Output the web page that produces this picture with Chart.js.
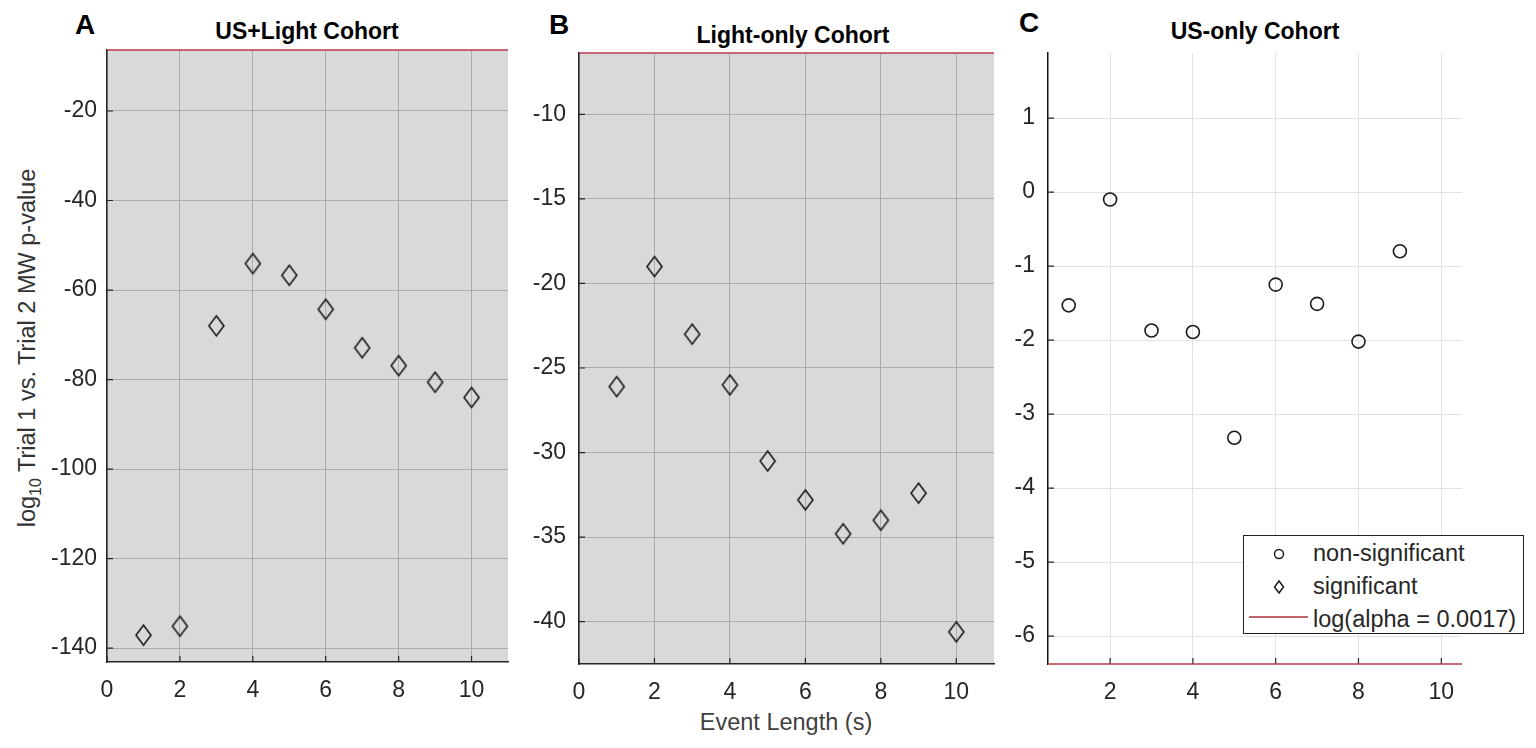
<!DOCTYPE html>
<html lang="en">
<head>
<meta charset="UTF-8">
<title>Trial 1 vs. Trial 2 MW p-value by event length</title>
<script src="https://cdn.jsdelivr.net/npm/chart.js"></script>
<style>
    body { margin: 0; width: 1536px; height: 748px; position: relative; overflow: hidden; background: #fff;
           font-family: "Liberation Sans", Arial, sans-serif; color: #262626; }
    canvas { position: absolute; }
    .txt { position: absolute; transform: translate(-50%, -50%); line-height: 1; white-space: nowrap; }
    .letter { font-size: 28px; font-weight: bold; color: #000; }
    .title { font-size: 23px; font-weight: bold; color: #000; }
    .axis-label { font-size: 23.5px; color: #333; }
    .ylabel { transform: translate(-50%, -50%) rotate(-90deg); }
    .ylabel sub { font-size: 16px; }
    #legend { position: absolute; left: 1243px; top: 535px; width: 279px; height: 97px;
              border: 1px solid #222; background: #fff; font-size: 23.5px; color: #262626; }
    #legend .row { position: absolute; left: 0; right: 0; height: 30px; }
    #legend .row span { position: absolute; left: 69px; top: 50%; transform: translateY(-50%); line-height: 1; }
    #legend svg { position: absolute; top: 0; left: 0; }
</style>
</head>
<body>
    <div class="txt letter" style="left:85px; top:25px;">A</div>
    <div class="txt letter" style="left:559px; top:25px;">B</div>
    <div class="txt letter" style="left:1029px; top:23px;">C</div>

    <div class="txt title" style="left:307px; top:31px;">US+Light Cohort</div>
    <div class="txt title" style="left:793px; top:35px;">Light-only Cohort</div>
    <div class="txt title" style="left:1255px; top:31px;">US-only Cohort</div>

    <div class="txt axis-label ylabel" style="left:30px; top:348px;">log<sub>10</sub> Trial 1 vs. Trial 2 MW p-value</div>
    <div class="txt axis-label" style="left:786px; top:723px; color:#404040;">Event Length (s)</div>

    <canvas id="panelA" width="501" height="692" style="left:37px; top:20px;"></canvas>
    <canvas id="panelB" width="515" height="691" style="left:509px; top:23px;"></canvas>
    <canvas id="panelC" width="514" height="691" style="left:978px; top:23px;"></canvas>

    <div id="legend">
        <div class="row" style="top:3px;">
            <svg width="69" height="30"><circle cx="35" cy="15" r="4.5" fill="none" stroke="#1a1a1a" stroke-width="1.5"/></svg>
            <span>non-significant</span>
        </div>
        <div class="row" style="top:36px;">
            <svg width="69" height="30"><path d="M35 9 L39.5 15 L35 21 L30.5 15 Z" fill="none" stroke="#1a1a1a" stroke-width="1.5"/></svg>
            <span>significant</span>
        </div>
        <div class="row" style="top:69px;">
            <svg width="69" height="30"><line x1="5" y1="12" x2="64" y2="12" stroke="#a8303c" stroke-width="1.5"/></svg>
            <span>log(alpha = 0.0017)</span>
        </div>
    </div>

    <script>
        // event lengths (s)
        const eventLengths = [1, 2, 3, 4, 5, 6, 7, 8, 9, 10];
        const usOnlyLengths = [1, 2, 3, 4, 5, 6, 7, 8, 9];

        // log10 p-values
        const usLightP   = [-137.1, -135.1, -68.0, -54.1, -56.7, -64.3, -72.9, -76.9, -80.6, -84.0];
        const lightOnlyP = [-26.1, -19.0, -23.0, -26.0, -30.5, -32.8, -34.8, -34.0, -32.4, -40.6];
        const usOnlyP    = [-1.53, -0.10, -1.87, -1.89, -3.32, -1.25, -1.51, -2.02, -0.80];

        // threshold line: log(alpha = 0.0017)
        const logAlpha = -6.377;

        // tick labels
        const xTicksAB = [0, 2, 4, 6, 8, 10];
        const xTicksC  = [2, 4, 6, 8, 10];
        const yTicksA  = [-20, -40, -60, -80, -100, -120, -140];
        const yTicksB  = [-10, -15, -20, -25, -30, -35, -40];
        const yTicksC  = [1, 0, -1, -2, -3, -4, -5, -6];

        const FONT = '"Liberation Sans", Arial, sans-serif';
        const alphaColor = '#bb3a47';

        function makeDiamond(w, h, lw) {
            const c = document.createElement('canvas');
            c.width = w + 4; c.height = h + 4;
            const g = c.getContext('2d');
            g.strokeStyle = '#1a1a1a';
            g.lineWidth = lw;
            g.beginPath();
            g.moveTo(c.width / 2, 2);
            g.lineTo(c.width - 2, c.height / 2);
            g.lineTo(c.width / 2, c.height - 2);
            g.lineTo(2, c.height / 2);
            g.closePath();
            g.stroke();
            return c;
        }
        const diamond = makeDiamond(15, 20, 1.6);

        const grayBackground = {
            id: 'grayBackground',
            beforeDraw(chart, args, opts) {
                if (!opts.color) return;
                const a = chart.chartArea;
                chart.ctx.save();
                chart.ctx.fillStyle = opts.color;
                chart.ctx.fillRect(a.left, a.top, a.right - a.left, a.bottom - a.top);
                chart.ctx.restore();
            }
        };

        // MATLAB style tick marks pointing into the axes
        const innerTicks = {
            id: 'innerTicks',
            beforeDatasetsDraw(chart) {
                const { ctx, chartArea: a, scales: { x, y } } = chart;
                ctx.save();
                ctx.strokeStyle = '#262626';
                ctx.lineWidth = 1.2;
                ctx.beginPath();
                x.ticks.forEach(t => {
                    const px = x.getPixelForValue(t.value);
                    ctx.moveTo(px, a.bottom); ctx.lineTo(px, a.bottom - 6);
                });
                y.ticks.forEach(t => {
                    const py = y.getPixelForValue(t.value);
                    ctx.moveTo(a.left, py); ctx.lineTo(a.left + 6, py);
                });
                ctx.stroke();
                ctx.restore();
            }
        };

        function panel(id, cfg) {
            new Chart(document.getElementById(id), {
                type: 'scatter',
                data: {
                    datasets: [
                        {
                            label: cfg.label,
                            data: cfg.xs.map((x, i) => ({ x: x, y: cfg.ys[i] })),
                            pointStyle: cfg.marker,
                            pointRadius: cfg.radius,
                            borderColor: '#1a1a1a',
                            borderWidth: 1.6,
                            backgroundColor: 'rgba(0,0,0,0)',
                            clip: false
                        },
                        {
                            label: 'log(alpha = 0.0017)',
                            type: 'line',
                            data: [{ x: cfg.xMin, y: logAlpha }, { x: cfg.xMax, y: logAlpha }],
                            borderColor: alphaColor,
                            borderWidth: 1.6,
                            pointRadius: 0,
                            clip: false
                        }
                    ]
                },
                options: {
                    responsive: false,
                    animation: false,
                    events: [],
                    layout: { padding: { top: 30, right: 30, left: 0, bottom: 0 } },
                    plugins: {
                        legend: { display: false },
                        tooltip: { enabled: false },
                        grayBackground: { color: cfg.bg }
                    },
                    scales: {
                        x: {
                            type: 'linear',
                            min: cfg.xMin, max: cfg.xMax,
                            afterBuildTicks: s => { s.ticks = cfg.xTicks.map(v => ({ value: v })); },
                            afterFit: s => { s.height = 50; },
                            grid: { color: cfg.gridColor, lineWidth: 1, drawTicks: false },
                            border: { display: cfg.xBorder, color: '#262626', width: 1.5 },
                            ticks: { color: '#262626', font: { family: FONT, size: 23 }, padding: 15,
                                     maxRotation: 0, autoSkip: false }
                        },
                        y: {
                            type: 'linear',
                            min: cfg.yMin, max: cfg.yMax,
                            afterBuildTicks: s => { s.ticks = cfg.yTicks.map(v => ({ value: v })); },
                            afterFit: s => { s.width = 70; },
                            grid: { color: cfg.gridColor, lineWidth: 1, drawTicks: false },
                            border: { display: true, color: cfg.yBorderColor, width: 1.5 },
                            ticks: { color: '#262626', font: { family: FONT, size: 23 }, padding: cfg.yPad,
                                     autoSkip: false }
                        }
                    }
                },
                plugins: [grayBackground, innerTicks]
            });
        }

        panel('panelA', {
            label: 'significant', xs: eventLengths, ys: usLightP, marker: diamond, radius: 9,
            xMin: 0, xMax: 11, yMin: -143.1, yMax: logAlpha, xTicks: xTicksAB, yTicks: yTicksA,
            bg: '#d9d9d9', gridColor: '#ababab', xBorder: true, yBorderColor: '#262626', yPad: 10
        });
        panel('panelB', {
            label: 'significant', xs: eventLengths, ys: lightOnlyP, marker: diamond, radius: 9,
            xMin: 0, xMax: 11, yMin: -42.5, yMax: logAlpha, xTicks: xTicksAB, yTicks: yTicksB,
            bg: '#d9d9d9', gridColor: '#ababab', xBorder: true, yBorderColor: '#262626', yPad: 13
        });
        panel('panelC', {
            label: 'non-significant', xs: usOnlyLengths, ys: usOnlyP, marker: 'circle', radius: 6.5,
            xMin: 0.5, xMax: 10.5, yMin: logAlpha, yMax: 1.88, xTicks: xTicksC, yTicks: yTicksC,
            bg: null, gridColor: '#e2e2e2', xBorder: false, yBorderColor: '#111', yPad: 13
        });
    </script>
</body>
</html>
